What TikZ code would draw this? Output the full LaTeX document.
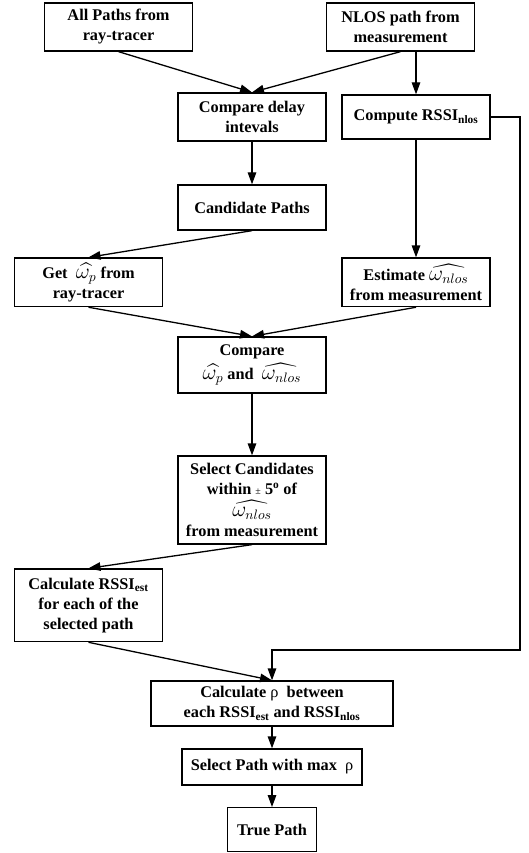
\documentclass[tikz,border=0pt]{standalone}
\usepackage{amsmath}
\usepackage{fontspec}
\setmainfont{Liberation Serif}
\usetikzlibrary{arrows.meta}

\newcommand{\hatwp}{\scalebox{1.25}{$\widehat{\omega_p}$}}
\newcommand{\hatwn}{\scalebox{1.25}{$\widehat{\omega_{nlos}}$}}
\newcommand{\rhosym}{{\mdseries ρ}}

\begin{document}
\begin{tikzpicture}[x=1pt, y=-1pt, >={Triangle[length=12pt,width=8.5pt]}, line width=1.3pt,
  font=\fontsize{16.3}{20}\selectfont\bfseries,
  blk/.style={draw, align=center, inner sep=0pt, minimum width=148pt, minimum height=48pt}]
  \useasboundingbox (0,0) rectangle (529,853);
  % top row
  \node[blk] (all) at (118.5,27) {All Paths from\\ray-tracer};
  \node[blk] (nlos) at (400.5,27) {NLOS path from\\measurement};
  \node[blk] (cdi) at (252,117) {Compare delay\\intevals};
  \node[blk, minimum height=44pt] (rssi) at (416,117) {Compute RSSI\textsubscript{nlos}};
  \node[blk, minimum height=45pt] (cand) at (252,207.5) {Candidate Paths};
  \node[blk, minimum height=48.6pt] (get) at (88.5,282.3) {Get~ \hatwp{} from\\ray-tracer};
  \node[blk, minimum height=48.6pt] (est) at (416,282.3) {Estimate \hatwn\\from measurement};
  % middle
  \node[blk, minimum height=56pt] (cmp) at (252,365) {Compare\\[4pt]\hatwp{} and~ \hatwn};
  \node[blk, minimum height=88pt] (sel) at (252,500) {Select Candidates\\within {\mdseries\fontsize{10}{12}\selectfont ±} 5\textsuperscript{o} of\\[2pt]\hatwn\\from measurement};
  \node[blk, minimum height=72.7pt] (calc) at (88.5,605.3) {Calculate RSSI\textsubscript{est}\\for each of the\\selected path};
  % bottom
  \node[blk, minimum width=242pt, minimum height=45pt] (rho) at (272,703.5) {Calculate \rhosym{}~ between\\each RSSI\textsubscript{est} and RSSI\textsubscript{nlos}};
  \node[blk, minimum width=180pt, minimum height=36pt] (mx) at (272,767) {Select Path with max~ \rhosym};
  \node[blk, minimum width=89pt, minimum height=44pt] (tru) at (272,829.7) {True Path};
  \coordinate (bend) at (520,650);
  % connectors
  \draw[->] (all.south) -- (cdi.north);
  \draw[->] (nlos.south) -- (cdi.north);
  \draw[->] (nlos.south -| rssi.north) -- (rssi.north);
  \draw[->] (cdi) -- (cand);
  \draw[->] (cand.south) -- (get.north);
  \draw[->] (rssi) -- (est);
  \draw[->] (get.south) -- (cmp.north);
  \draw[->] (est.south) -- (cmp.north);
  \draw[->] (cmp) -- (sel);
  \draw[->] (sel.south) -- (calc.north);
  \draw[->] (calc.south) -- (rho.north);
  \draw[->] (rssi.east) -| (bend) -| (rho.north);
  \draw[->] (rho) -- (mx);
  \draw[->] (mx) -- (tru);
\end{tikzpicture}
\end{document}
